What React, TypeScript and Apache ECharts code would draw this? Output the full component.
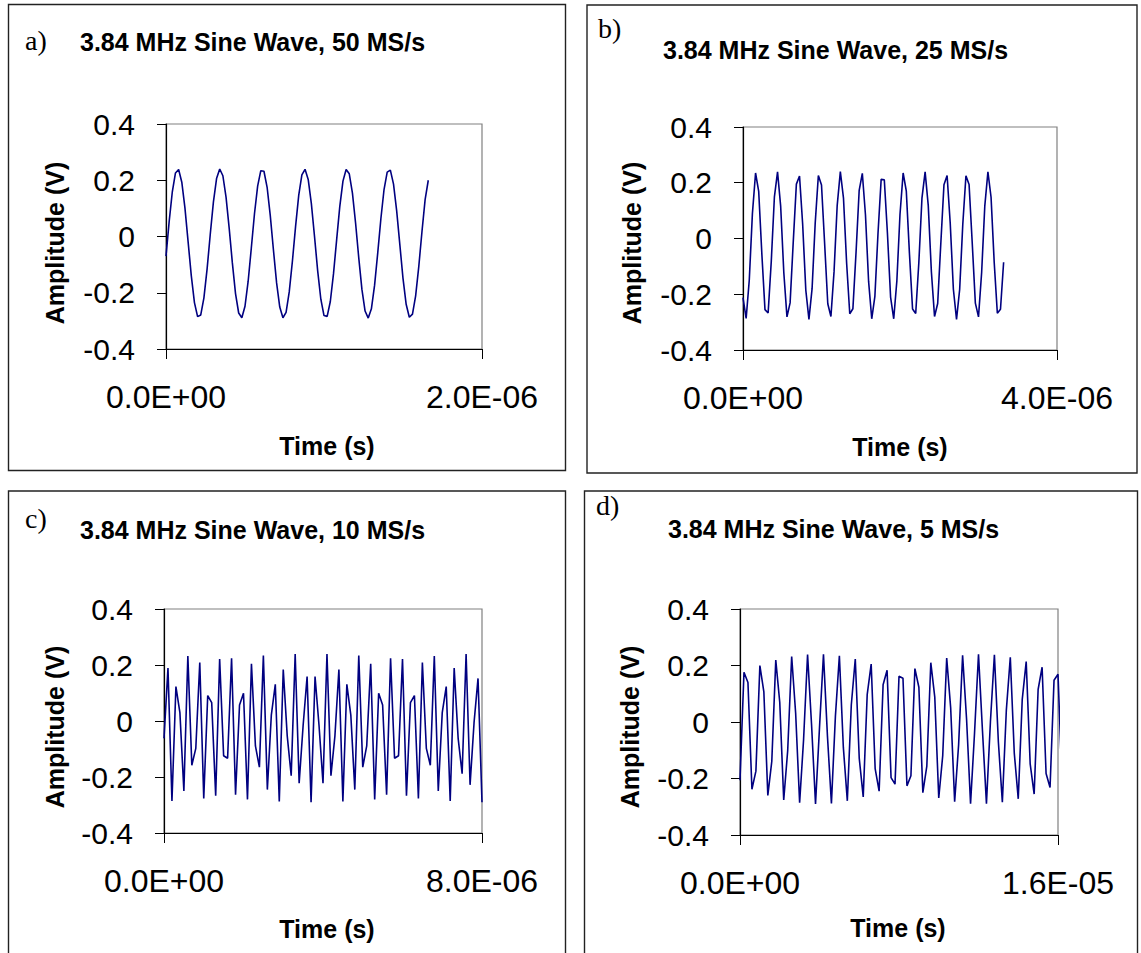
import React, { useEffect, useRef } from 'react';
import * as echarts from 'echarts';

// ---- data ----
const PANEL_LABELS = ['a)', 'b)', 'c)', 'd)'];
const TITLES = [
  '3.84 MHz Sine Wave, 50 MS/s',
  '3.84 MHz Sine Wave, 25 MS/s',
  '3.84 MHz Sine Wave, 10 MS/s',
  '3.84 MHz Sine Wave, 5 MS/s',
];
const X_AXIS_MAX = [2e-6, 4e-6, 8e-6, 1.6e-5];
const SAMPLE_INTERVAL = [2e-8, 4e-8, 1e-7, 2e-7]; // seconds between samples
const Y_MIN = -0.4;
const Y_MAX = 0.4;
const Y_STEP = 0.2;
const X_NAME = 'Time (s)';
const Y_NAME = 'Amplitude (V)';

const AMP_50MS = [
  -0.070, 0.053, 0.159, 0.226, 0.238, 0.193, 0.101, -0.019, -0.139, -0.235,
  -0.285, -0.279, -0.218, -0.116, 0.007, 0.122, 0.206, 0.240, 0.216, 0.140,
  0.029, -0.094, -0.203, -0.272, -0.289, -0.248, -0.159, -0.041, 0.081, 0.179,
  0.234, 0.232, 0.175, 0.074, -0.048, -0.165, -0.251, -0.289, -0.270, -0.197,
  -0.088, 0.035, 0.146, 0.219, 0.239, 0.203, 0.117, 0.000, -0.122, -0.223,
  -0.281, -0.284, -0.231, -0.133, -0.012, 0.107, 0.197, 0.238, 0.223, 0.154,
  0.047, -0.076, -0.188, -0.265, -0.290, -0.257, -0.174, -0.059, 0.063, 0.167,
  0.229, 0.236, 0.186, 0.091, -0.029, -0.149, -0.241, -0.287, -0.276, -0.211,
  -0.106, 0.017, 0.131, 0.200,
];

const AMP_25MS = [
  -0.212, -0.287, -0.149, 0.090, 0.235, 0.169, -0.055, -0.255, -0.267, -0.083,
  0.149, 0.239, 0.115, -0.123, -0.281, -0.231, -0.013, 0.195, 0.224, 0.051,
  -0.185, -0.290, -0.180, 0.056, 0.226, 0.192, -0.019, -0.234, -0.280, -0.118,
  0.119, 0.240, 0.145, -0.088, -0.270, -0.252, -0.050, 0.173, 0.234, 0.085,
  -0.154, -0.288, -0.208, 0.020, 0.212, 0.211, 0.018, -0.210, -0.288, -0.152,
  0.087, 0.235, 0.171, -0.052, -0.253, -0.269, -0.086, 0.146, 0.239, 0.118,
  -0.120, -0.280, -0.233, -0.017, 0.193, 0.226, 0.054, -0.182, -0.290, -0.183,
  0.052, 0.225, 0.194, -0.015, -0.232, -0.281, -0.122, 0.116, 0.239, 0.148,
  -0.085, -0.268, -0.254, -0.085,
];

const AMP_10MS = [
  -0.062, 0.189, -0.286, 0.123, 0.030, -0.250, 0.232, -0.158, -0.098, 0.209,
  -0.277, 0.091, 0.066, -0.267, 0.221, -0.124, -0.133, 0.224, -0.263, 0.057,
  0.099, -0.280, 0.204, -0.089, -0.165, 0.234, -0.245, 0.021, 0.131, -0.287,
  0.184, -0.053, -0.195, 0.239, -0.222, -0.016, 0.159, -0.290, 0.159, -0.016,
  -0.222, 0.239, -0.195, -0.053, 0.184, -0.287, 0.131, 0.021, -0.245, 0.234,
  -0.165, -0.089, 0.204, -0.280, 0.099, 0.057, -0.263, 0.224, -0.133, -0.124,
  0.221, -0.267, 0.066, 0.091, -0.277, 0.209, -0.098, -0.158, 0.232, -0.250,
  0.030, 0.123, -0.286, 0.189, -0.062, -0.188, 0.239, -0.228, -0.006, 0.152,
  -0.290,
];

const AMP_5MS = [
  -0.206, 0.176, 0.140, -0.238, -0.174, 0.200, 0.107, -0.260, -0.139, 0.219,
  0.070, -0.276, -0.101, 0.232, 0.031, -0.286, -0.061, 0.239, -0.009, -0.290,
  -0.020, 0.240, -0.050, -0.288, 0.020, 0.234, -0.090, -0.279, 0.060, 0.223,
  -0.129, -0.265, 0.097, 0.205, -0.165, -0.245, 0.132, 0.183, -0.197, -0.220,
  0.162, 0.155, -0.226, -0.190, 0.189, 0.123, -0.250, -0.156, 0.210, 0.088,
  -0.269, -0.119, 0.226, 0.050, -0.282, -0.080, 0.236, 0.010, -0.289, -0.040,
  0.240, -0.031, -0.289, 0.001, 0.238, -0.071, -0.284, 0.041, 0.229, -0.110,
  -0.272, 0.079, 0.214, -0.148, -0.255, 0.115, 0.194, -0.182, -0.232, 0.148,
  0.169, -0.213,
];

const AMPLITUDES = [AMP_50MS, AMP_25MS, AMP_10MS, AMP_5MS];

// ---- layout (positions / styles only) ----
const FONT = "'Liberation Sans', Arial, Helvetica, sans-serif";
const SERIF = "'Liberation Serif', 'Times New Roman', serif";
const LAYOUT = [
  { box: [8.5, 4.5, 557, 466], grid: [166, 124, 316, 225], tag: [25, 40], title: [80, 42], yName: [55, 243], xName: [327, 446] },
  { box: [587, 5, 550, 468], grid: [743, 127, 314, 223], tag: [598, 28], title: [663, 50], yName: [632, 243], xName: [900, 447] },
  { box: [8.5, 491, 557, 470], grid: [164, 609, 318, 224], tag: [25, 518], title: [80, 530], yName: [55, 727], xName: [327, 929] },
  { box: [584.5, 491, 553, 470], grid: [740, 609, 318, 226], tag: [596, 505], title: [668, 529], yName: [630, 727], xName: [898, 928] },
];

function sci(v: number): string {
  if (Math.abs(v) < 1e-15) return '0.0E+00';
  const e = Math.floor(Math.log10(Math.abs(v)) + 1e-9);
  const m = v / Math.pow(10, e);
  const sign = e < 0 ? '-' : '+';
  return m.toFixed(1) + 'E' + sign + String(Math.abs(e)).padStart(2, '0');
}

export default function App() {
  const ref = useRef<HTMLDivElement>(null);
  useEffect(() => {
    if (!ref.current) return;
    const chart = echarts.init(ref.current, undefined, { renderer: 'svg' });

    const grids: any[] = [];
    const xAxes: any[] = [];
    const yAxes: any[] = [];
    const series: any[] = [];
    const graphic: any[] = [];

    LAYOUT.forEach((L, i) => {
      const [gl, gt, gw, gh] = L.grid;
      grids.push({
        left: gl, top: gt, width: gw, height: gh,
        show: true, borderColor: '#808080', borderWidth: 1.2, backgroundColor: 'transparent',
        containLabel: false,
      });
      xAxes.push({
        gridIndex: i, type: 'value', min: 0, max: X_AXIS_MAX[i], interval: X_AXIS_MAX[i],
        axisLine: { show: true, onZero: false, lineStyle: { color: '#000', width: 1.2 } },
        axisTick: { show: true, inside: false, length: 10, lineStyle: { color: '#000', width: 1 } },
        axisLabel: {
          show: true, margin: 32, fontSize: 32, color: '#000', fontFamily: FONT,
          formatter: (v: number) => sci(v), showMinLabel: true, showMaxLabel: true,
        },
        splitLine: { show: false },
      });
      yAxes.push({
        gridIndex: i, type: 'value', min: Y_MIN, max: Y_MAX, interval: Y_STEP,
        axisLine: { show: true, onZero: false, lineStyle: { color: '#000', width: 1.2 } },
        axisTick: { show: true, inside: false, length: 9, lineStyle: { color: '#000', width: 1 } },
        axisLabel: {
          show: true, margin: 31, fontSize: 30, color: '#000', fontFamily: FONT,
          formatter: (v: number) => (Math.abs(v) < 1e-9 ? '0' : v.toFixed(1)),
        },
        splitLine: { show: false },
      });
      const dt = SAMPLE_INTERVAL[i];
      series.push({
        type: 'line', xAxisIndex: i, yAxisIndex: i,
        data: AMPLITUDES[i].map((v, k) => [k * dt, v]),
        showSymbol: false, symbol: 'none', clip: true,
        lineStyle: { color: '#000080', width: 1.6 },
      });

      const [bx, by, bw, bh] = L.box;
      graphic.push({
        type: 'rect', shape: { x: bx, y: by, width: bw, height: bh },
        style: { fill: 'none', stroke: '#222', lineWidth: 1.4 }, silent: true,
      });
      graphic.push({
        type: 'text', x: L.tag[0], y: L.tag[1],
        style: { text: PANEL_LABELS[i], font: `28px ${SERIF}`, fill: '#000', textAlign: 'left', textVerticalAlign: 'middle' },
      });
      graphic.push({
        type: 'text', x: L.title[0], y: L.title[1],
        style: { text: TITLES[i], font: `bold 25px ${FONT}`, fill: '#000', textAlign: 'left', textVerticalAlign: 'middle' },
      });
      graphic.push({
        type: 'text', x: L.yName[0], y: L.yName[1], rotation: Math.PI / 2,
        style: { text: Y_NAME, font: `bold 25px ${FONT}`, fill: '#000', textAlign: 'center', textVerticalAlign: 'middle' },
      });
      graphic.push({
        type: 'text', x: L.xName[0], y: L.xName[1],
        style: { text: X_NAME, font: `bold 25px ${FONT}`, fill: '#000', textAlign: 'center', textVerticalAlign: 'middle' },
      });
    });

    chart.setOption({
      animation: false,
      backgroundColor: '#fff',
      grid: grids,
      xAxis: xAxes,
      yAxis: yAxes,
      series,
      graphic,
    });
    return () => chart.dispose();
  }, []);

  return (
    <div
      ref={ref}
      style={{ position: 'absolute', left: 0, top: 0, width: 1141, height: 953, background: '#fff' }}
    />
  );
}
